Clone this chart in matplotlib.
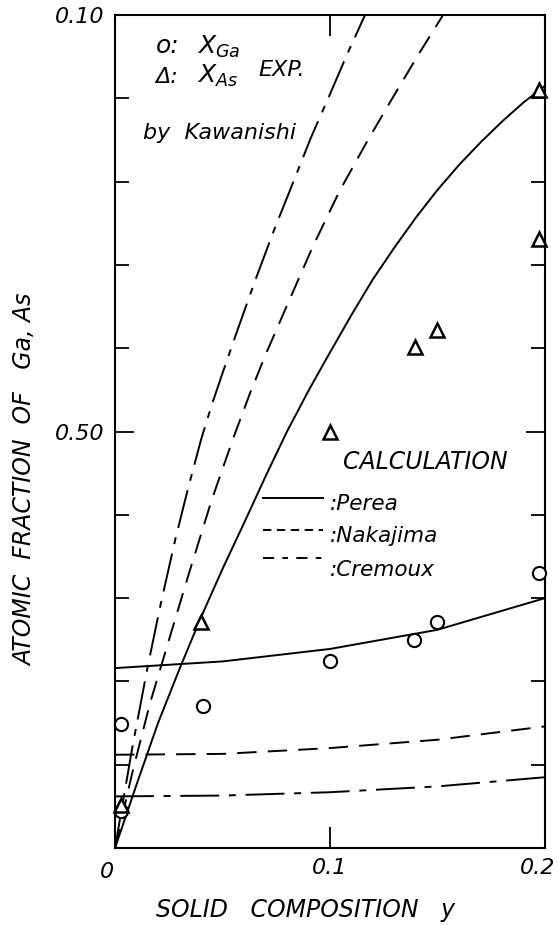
import matplotlib
matplotlib.use("Agg")
import matplotlib.pyplot as plt
from matplotlib.transforms import ScaledTranslation

plt.rcParams['font.family'] = ['DejaVu Sans']
plt.rcParams['font.style'] = 'italic'
plt.rcParams['mathtext.fontset'] = 'dejavusans'
plt.rcParams['lines.scale_dashes'] = False

# ---- experimental points (Kawanishi) ----
ga_exp_x = [0.003, 0.003, 0.041, 0.100, 0.139, 0.150, 0.197]
ga_exp_y = [0.0044, 0.0149, 0.0170, 0.0224, 0.0250, 0.0271, 0.0330]
as_exp_x = [0.003, 0.040, 0.100, 0.1395, 0.150, 0.197, 0.197]
as_exp_y = [0.0052, 0.0271, 0.0499, 0.0601, 0.0622, 0.0731, 0.0910]

# ---- calculated liquidus compositions ----
perea_as_x = [0, 0.01, 0.02, 0.03, 0.04, 0.05, 0.06, 0.07, 0.08, 0.09, 0.10,
              0.11, 0.12, 0.13, 0.14, 0.15, 0.16, 0.17, 0.18, 0.19, 0.20]
perea_as_y = [0, 0.0076, 0.0150, 0.0215, 0.0277, 0.0335, 0.0390, 0.0446, 0.0500, 0.0549, 0.0595,
              0.0640, 0.0683, 0.0721, 0.0757, 0.0790, 0.0820, 0.0847, 0.0872, 0.0895, 0.0915]
perea_ga_x = [0, 0.05, 0.10, 0.15, 0.20]
perea_ga_y = [0.0216, 0.0224, 0.0239, 0.0262, 0.0300]

nakajima_as_x = [0, 0.008, 0.0163, 0.0293, 0.0349, 0.045, 0.055, 0.0628, 0.070, 0.0791,
                 0.092, 0.1047, 0.117, 0.1290, 0.141, 0.1526]
nakajima_as_y = [0, 0.0090, 0.0174, 0.0286, 0.0334, 0.0418, 0.0492, 0.0546, 0.0592, 0.0646,
                 0.0722, 0.0790, 0.0847, 0.0900, 0.0952, 0.1000]
nakajima_ga_x = [0, 0.05, 0.10, 0.15, 0.20]
nakajima_ga_y = [0.0112, 0.0113, 0.0120, 0.0130, 0.0146]

cremoux_as_x = [0, 0.008, 0.015, 0.021, 0.028, 0.034, 0.040, 0.045, 0.050, 0.057, 0.065,
                0.074, 0.083, 0.091, 0.100, 0.108, 0.1163]
cremoux_as_y = [0, 0.0120, 0.0215, 0.0290, 0.0370, 0.0432, 0.0490, 0.0532, 0.0570, 0.0622, 0.0680,
                0.0742, 0.0800, 0.0852, 0.0905, 0.0953, 0.1000]
cremoux_ga_x = [0, 0.05, 0.10, 0.15, 0.20]
cremoux_ga_y = [0.0062, 0.0063, 0.0067, 0.0074, 0.0085]

x_ticks = [0, 0.1, 0.2]
x_tick_labels = ['0', '0.1', '0.2']
y_ticks = [0.05, 0.10]
y_tick_labels = ['0.50', '0.10']
y_minor = [0.01, 0.02, 0.03, 0.04, 0.06, 0.07, 0.08, 0.09]

SOLID = '-'
DASHED = (0, (14, 8))
CHAIN = (0, (28, 7, 5, 7))
KEY_STYLE = {SOLID: SOLID, DASHED: (0, (6, 4)), CHAIN: (0, (8, 6, 4, 6))}
LW = 1.4

fig = plt.figure(figsize=(5.58, 9.25), dpi=100)
ax = fig.add_axes([0.2061, 0.0832, 0.7706, 0.9006])
ax.set_xlim(0, 0.2)
ax.set_ylim(0, 0.10)

for xs, ys, ls in [(perea_as_x, perea_as_y, SOLID),
                   (perea_ga_x, perea_ga_y, SOLID),
                   (nakajima_as_x, nakajima_as_y, DASHED),
                   (nakajima_ga_x, nakajima_ga_y, DASHED),
                   (cremoux_as_x, cremoux_as_y, CHAIN),
                   (cremoux_ga_x, cremoux_ga_y, CHAIN)]:
    ax.plot(xs, ys, color='black', lw=LW, linestyle=ls, clip_on=True)

ax.plot(ga_exp_x, ga_exp_y, linestyle='none', marker='o', ms=9.5,
        mfc='white', mec='black', mew=1.5, clip_on=False, zorder=3)
ax.plot(as_exp_x, as_exp_y, linestyle='none', marker='^', ms=10.5,
        mfc='white', mec='black', mew=1.8, clip_on=False, zorder=3)

# axes frame and ticks
for s in ax.spines.values():
    s.set_linewidth(1.5)
ax.set_xticks(x_ticks)
ax.set_xticklabels(x_tick_labels)
ax.set_yticks(y_ticks)
ax.set_yticklabels(y_tick_labels)
ax.set_yticks(y_minor, minor=True)
ax.tick_params(axis='x', which='major', direction='in', length=15, width=1.3,
               top=True, labelsize=16, pad=7)
ax.tick_params(axis='y', which='major', direction='in', length=14, width=1.3,
               right=True, labelsize=16, pad=8)
ax.tick_params(axis='y', which='minor', direction='in', length=10, width=1.3,
               right=True)
xl = ax.get_xticklabels()
xl[0].set_transform(xl[0].get_transform() + ScaledTranslation(-8 / 100, -4 / 100, fig.dpi_scale_trans))
xl[2].set_transform(xl[2].get_transform() + ScaledTranslation(-7 / 100, 0, fig.dpi_scale_trans))

ax.set_ylabel('ATOMIC  FRACTION  OF   Ga, As', fontsize=17)
ax.yaxis.set_label_coords(-0.180, 0.442)
ax.set_xlabel('SOLID   COMPOSITION   y', fontsize=17)
ax.xaxis.set_label_coords(0.442, -0.060)

# experimental key
ax.text(0.0190, 0.0963, 'o:', fontsize=18, ha='left', va='center')
ax.text(0.0381, 0.0962, r'$X_{Ga}$', fontsize=18, ha='left', va='center')
ax.text(0.0190, 0.0925, 'Δ:', fontsize=16, ha='left', va='center')
ax.text(0.0381, 0.0927, r'$X_{As}$', fontsize=18, ha='left', va='center')
ax.text(0.0665, 0.0934, 'EXP.', fontsize=16, ha='left', va='center')
ax.text(0.0130, 0.0858, 'by  Kawanishi', fontsize=16, ha='left', va='center')

# calculation key
ax.text(0.106, 0.0463, 'CALCULATION', fontsize=17, ha='left', va='center')
for yk, yt, ls, name in [(0.0420, 0.0413, SOLID, 'Perea'),
                         (0.0382, 0.0374, DASHED, 'Nakajima'),
                         (0.0348, 0.0334, CHAIN, 'Cremoux')]:
    ax.plot([0.0688, 0.0967], [yk, yk], color='black', lw=LW, linestyle=KEY_STYLE[ls])
    ax.text(0.1000, yt, ':' + name, fontsize=15.5, ha='left', va='center')

fig.savefig('out.png', dpi=100)
